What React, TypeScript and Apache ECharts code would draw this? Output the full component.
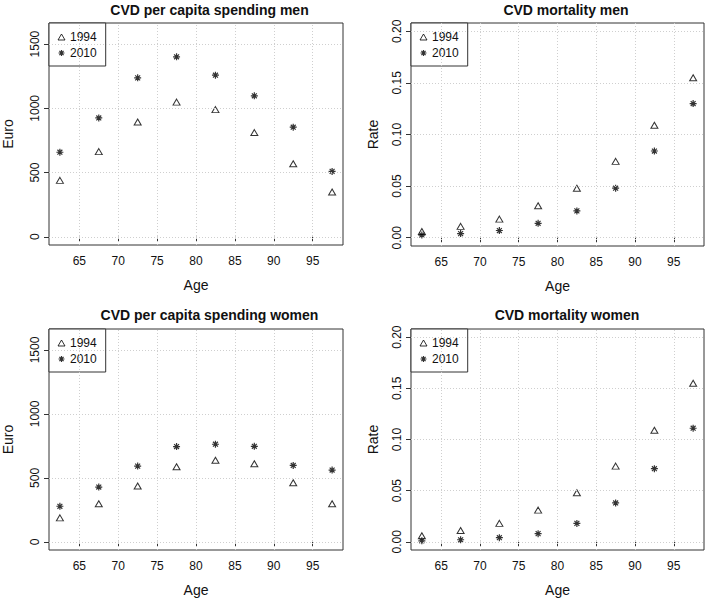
import React, { useEffect, useRef } from "react";
import * as echarts from "echarts";

const AGES = [62.5, 67.5, 72.5, 77.5, 82.5, 87.5, 92.5, 97.5];
const SPEND_MEN_1994 = [439, 663, 894, 1048, 990, 811, 569, 348];
const SPEND_MEN_2010 = [658, 925, 1237, 1401, 1258, 1097, 853, 509];
const MORT_MEN_1994 = [0.006, 0.011, 0.018, 0.031, 0.048, 0.074, 0.109, 0.155];
const MORT_MEN_2010 = [0.0026, 0.004, 0.007, 0.014, 0.026, 0.048, 0.084, 0.13];
const SPEND_WOMEN_1994 = [187, 298, 436, 587, 638, 610, 462, 298];
const SPEND_WOMEN_2010 = [278, 428, 592, 745, 763, 747, 597, 561];
const MORT_WOMEN_1994 = [0.006, 0.011, 0.018, 0.031, 0.048, 0.074, 0.109, 0.155];
const MORT_WOMEN_2010 = [0.001, 0.002, 0.004, 0.008, 0.018, 0.038, 0.0715, 0.111];

const AGE_TICKS = [65, 70, 75, 80, 85, 90, 95];
const EURO_TICKS = [0, 500, 1000, 1500];
const RATE_TICKS = [0, 0.05, 0.1, 0.15, 0.2];
const SERIES_NAMES = ["1994", "2010"];

const TITLES = [
  "CVD per capita spending men",
  "CVD mortality men",
  "CVD per capita spending women",
  "CVD mortality women",
];

const FONT = "'Liberation Sans', Arial, Helvetica, sans-serif";
const ASTERISK = "path://M5,0L5,10M0,5L10,5M1.5,1.5L8.5,8.5M1.5,8.5L8.5,1.5";
const TRI_STYLE = { color: "#fff", borderColor: "#000", borderWidth: 1 };
const AST_STYLE = { color: "none", borderColor: "#000", borderWidth: 1.2 };

type Panel = {
  title: string;
  left: number;
  top: number;
  width: number;
  height: number;
  titleX: number;
  titleY: number;
  yName: string;
  yMin: number;
  yMax: number;
  yTicks: number[];
  yFmt: (v: number) => string;
  nameGap: number;
  a: number[];
  b: number[];
};

export default function App() {
  const ref = useRef<HTMLDivElement>(null);
  useEffect(() => {
    if (!ref.current) return;
    const chart = echarts.init(ref.current, undefined, { renderer: "svg" });
    const euroFmt = (v: number) => String(v);
    const rateFmt = (v: number) => v.toFixed(2);
    const panels: Panel[] = [
      { title: TITLES[0], left: 49, top: 23, width: 294, height: 222, titleX: 209.5, titleY: 9.5, yName: "Euro", yMin: -64, yMax: 1664, yTicks: EURO_TICKS, yFmt: euroFmt, nameGap: 34, a: SPEND_MEN_1994, b: SPEND_MEN_2010 },
      { title: TITLES[1], left: 411, top: 23, width: 293, height: 223, titleX: 566, titleY: 9.5, yName: "Rate", yMin: -0.008, yMax: 0.208, yTicks: RATE_TICKS, yFmt: rateFmt, nameGap: 31, a: MORT_MEN_1994, b: MORT_MEN_2010 },
      { title: TITLES[2], left: 49, top: 329, width: 294, height: 222, titleX: 209.5, titleY: 315, yName: "Euro", yMin: -64, yMax: 1664, yTicks: EURO_TICKS, yFmt: euroFmt, nameGap: 34, a: SPEND_WOMEN_1994, b: SPEND_WOMEN_2010 },
      { title: TITLES[3], left: 411, top: 329, width: 293, height: 222, titleX: 567, titleY: 315, yName: "Rate", yMin: -0.008, yMax: 0.208, yTicks: RATE_TICKS, yFmt: rateFmt, nameGap: 31, a: MORT_WOMEN_1994, b: MORT_WOMEN_2010 },
    ];

    const grid: any[] = [];
    const xAxis: any[] = [];
    const yAxis: any[] = [];
    const series: any[] = [];
    const legend: any[] = [];
    const graphic: any[] = [];

    panels.forEach((p, i) => {
      grid.push({
        left: p.left,
        top: p.top,
        width: p.width,
        height: p.height,
        show: true,
        borderColor: "#333",
        borderWidth: 1,
        backgroundColor: "transparent",
        containLabel: false,
      });
      xAxis.push({
        type: "value",
        gridIndex: i,
        min: 61.1,
        max: 98.9,
        name: "Age",
        nameLocation: "middle",
        nameGap: 33,
        nameTextStyle: { fontSize: 14, color: "#111", fontFamily: FONT },
        axisLine: { show: false },
        axisTick: { show: true, inside: false, length: 5, customValues: AGE_TICKS, lineStyle: { color: "#333" } },
        axisLabel: { customValues: AGE_TICKS, fontSize: 12, color: "#111", fontFamily: FONT, margin: 10 },
        splitLine: { show: false },
      });
      yAxis.push({
        type: "value",
        gridIndex: i,
        min: p.yMin,
        max: p.yMax,
        name: p.yName,
        nameLocation: "middle",
        nameGap: p.nameGap,
        nameTextStyle: { fontSize: 14, color: "#111", fontFamily: FONT },
        axisLine: { show: false },
        axisTick: { show: true, inside: false, length: 5, customValues: p.yTicks, lineStyle: { color: "#333" } },
        axisLabel: { customValues: p.yTicks, rotate: 90, fontSize: 12, color: "#111", fontFamily: FONT, margin: 8, formatter: p.yFmt },
        splitLine: { show: false },
      });
      // grid lines through the axis scales
      series.push({
        type: "scatter",
        name: "grid" + i,
        xAxisIndex: i,
        yAxisIndex: i,
        data: [],
        silent: true,
        z: 1,
        markLine: {
          silent: true,
          symbol: ["none", "none"],
          label: { show: false },
          lineStyle: { type: [1, 2], color: "#cfcfcf", width: 1 },
          data: [
            ...AGE_TICKS.map((v) => ({ xAxis: v })),
            ...p.yTicks.map((v) => ({ yAxis: v })),
          ],
        },
      });
      series.push({
        type: "scatter",
        name: SERIES_NAMES[0],
        xAxisIndex: i,
        yAxisIndex: i,
        symbol: "triangle",
        symbolSize: [7, 6],
        itemStyle: TRI_STYLE,
        data: AGES.map((x, k) => [x, p.a[k]]),
        z: 3,
      });
      series.push({
        type: "scatter",
        name: SERIES_NAMES[1],
        xAxisIndex: i,
        yAxisIndex: i,
        symbol: ASTERISK,
        symbolSize: 7,
        itemStyle: AST_STYLE,
        data: AGES.map((x, k) => [x, p.b[k]]),
        z: 3,
      });
      legend.push({
        data: [
          { name: SERIES_NAMES[0], icon: "triangle", itemStyle: TRI_STYLE },
          { name: SERIES_NAMES[1], icon: ASTERISK, itemStyle: AST_STYLE },
        ],
        orient: "vertical",
        left: p.left,
        top: p.top,
        padding: [8, 9, 7, 7],
        itemGap: 4,
        itemWidth: 7,
        itemHeight: 6,
        backgroundColor: "#fff",
        borderColor: "#333",
        borderWidth: 1,
        borderRadius: 0,
        selectedMode: false,
        textStyle: { fontSize: 12, color: "#111", fontFamily: FONT },
      });
      graphic.push({
        type: "text",
        x: p.titleX,
        y: p.titleY,
        style: {
          text: p.title,
          textAlign: "center",
          textVerticalAlign: "middle",
          font: `bold 14px ${FONT}`,
          fill: "#111",
        },
      });
    });

    chart.setOption({
      animation: false,
      backgroundColor: "#fff",
      grid,
      xAxis,
      yAxis,
      series,
      legend,
      graphic,
    });
    return () => chart.dispose();
  }, []);
  return (
    <div
      ref={ref}
      style={{ position: "fixed", left: 0, top: 0, width: 709, height: 598 }}
    />
  );
}
